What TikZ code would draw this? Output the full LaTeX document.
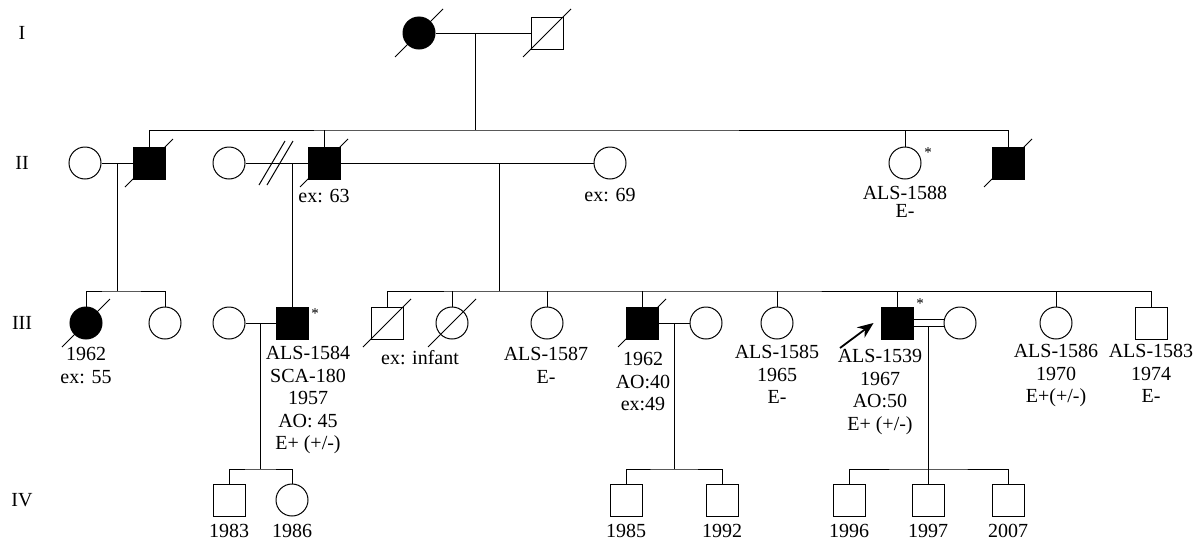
\documentclass[tikz,border=0pt]{standalone}
\usepackage{fontspec}
\setmainfont{Liberation Serif}
\usepackage{tikz}
\usetikzlibrary{arrows.meta, calc}

\begin{document}
\begin{tikzpicture}[
    x=1pt, y=-1pt,
    line width=1pt,
    person/.style={
        draw=black,
        fill=white,
        inner sep=0pt
    },
    male/.style={
        person,
        rectangle,
        minimum width=32pt,
        minimum height=32pt
    },
    female/.style={
        person,
        circle,
        minimum size=32pt
    },
    affected/.style={
        fill=black
    },
    info/.style={
        font=\fontsize{20}{22.5}\selectfont,
        align=center,
        inner sep=0pt,
        anchor=north
    },
    gen/.style={
        font=\fontsize{20}{24}\selectfont,
        inner sep=0pt
    },
    starmark/.style={
        font=\fontsize{15}{15}\selectfont,
        inner sep=0pt
    },
    proband/.style={
        line width=1.8pt,
        -{Stealth[length=16pt, width=13pt]}
    }
]
\useasboundingbox (0,0) rectangle (1204,541);

% Generation labels
\node[gen] (gI) at (22,33) {I};
\node[gen] (gII) at (22,163) {II};
\node[gen] (gIII) at (22,323) {III};
\node[gen] (gIV) at (22,500) {IV};

% Generation I
\node[female, affected] (I1) at (419,33) {};
\node[male] (I2) at (547,33) {};

% Generation II
\node[female] (II1) at (85,163) {};
\node[male, affected] (II2) at (149,163) {};
\node[female] (II3) at (229,163) {};
\node[male, affected] (II4) at (324,163) {};
\node[female] (II5) at (610,163) {};
\node[female] (II6) at (905,163) {};
\node[male, affected] (II7) at (1008,163) {};

% Generation III
\node[female, affected] (III1) at (86,323) {};
\node[female] (III2) at (165,323) {};
\node[female] (III3) at (229,323) {};
\node[male, affected] (III4) at (292,323) {};
\node[male] (III5) at (387,323) {};
\node[female] (III6) at (452,323) {};
\node[female] (III7) at (547,323) {};
\node[male, affected] (III8) at (642,323) {};
\node[female] (III9) at (706,323) {};
\node[female] (III10) at (777,323) {};
\node[male, affected] (III11) at (897,323) {};
\node[female] (III12) at (960,323) {};
\node[female] (III13) at (1056,323) {};
\node[male] (III14) at (1151,323) {};

% Generation IV
\node[male] (IV1) at (229,500) {};
\node[female] (IV2) at (292,500) {};
\node[male] (IV3) at (626,500) {};
\node[male] (IV4) at (722,500) {};
\node[male] (IV5) at (849,500) {};
\node[male] (IV6) at (928,500) {};
\node[male] (IV7) at (1008,500) {};

% Deceased
\foreach \n in {I1,I2,II2,II4,II7,III1,III5,III6,III8}
    \draw (\n.center) ++(-24,24) -- ++(48,-48);

% I1 x I2
\coordinate (mI) at (475,33);
\coordinate (sibII) at (475,130);
\draw (I1) -- (I2);
\draw (mI) -- (sibII);
\draw (II2.north) |- (sibII) -| (II7.north);
\foreach \n in {II4,II6}
    \draw (\n.north) -- (\n.north |- sibII);

% II1 x II2
\coordinate (mII12) at (117,163);
\coordinate (sibIIIa) at (117,291);
\draw (II1) -- (II2);
\draw (mII12) -- (sibIIIa);
\draw (III1.north) |- (sibIIIa) -| (III2.north);

% II3 x II4 (separated)
\coordinate (mII34) at (292,163);
\draw (II3) -- (II4);
\foreach \x in {272,280}
    \draw (\x,163) ++(-13,22) -- ++(26,-44);
\draw (mII34) -- (III4.north);

% II4 x II5
\coordinate (mII45) at (499,163);
\coordinate (sibIIIb) at (499,291);
\draw (II4) -- (II5);
\draw (mII45) -- (sibIIIb);
\draw (III5.north) |- (sibIIIb) -| (III14.north);
\foreach \n in {III6,III7,III8,III10,III11,III13}
    \draw (\n.north) -- (\n.north |- sibIIIb);

% III3 x III4
\coordinate (mIII34) at (260,323);
\coordinate (sibIVa) at (260,469);
\draw (III3) -- (III4);
\draw (mIII34) -- (sibIVa);
\draw (IV1.north) |- (sibIVa) -| (IV2.north);

% III8 x III9
\coordinate (mIII89) at (674,323);
\coordinate (sibIVb) at (674,469);
\draw (III8) -- (III9);
\draw (mIII89) -- (sibIVb);
\draw (IV3.north) |- (sibIVb) -| (IV4.north);

% III11 = III12 (consanguineous)
\coordinate (mIII1112) at (928,326.5);
\coordinate (sibIVc) at (928,469);
\draw ([yshift=3.5pt]III11.east) -- ([yshift=3.5pt]III12.west);
\draw ([yshift=-3.5pt]III11.east) -- ([yshift=-3.5pt]III12.west);
\draw (mIII1112) -- (sibIVc);
\draw (IV5.north) |- (sibIVc) -| (IV7.north);
\draw (IV6.north) -- (IV6.north |- sibIVc);

% Proband
\coordinate (arrtail) at (840,348);
\draw[proband] (arrtail) -- ([xshift=-7pt]III11.west);

% Tested
\node[starmark] (sII6) at (928,153) {*};
\node[starmark] (sIII4) at (315,314) {*};
\node[starmark] (sIII11) at (920,304) {*};

% Labels
\node[info] (lII4) at (324,189) {ex: 63};
\node[info] (lII5) at (610,188) {ex: 69};
\node[info, font=\fontsize{20}{18}\selectfont] (lII6) at (905,186) {ALS-1588\\E-};
\node[info] (lIII1) at (86,347) {1962\\ex: 55};
\node[info] (lIII4) at (308,346) {ALS-1584\\SCA-180\\1957\\AO: 45\\E+ (+/-)};
\node[info] (lIII56) at (420,350) {ex: infant};
\node[info] (lIII7) at (546,347) {ALS-1587\\E-};
\node[info] (lIII8) at (643,352) {1962\\AO:40\\ex:49};
\node[info] (lIII10) at (777,345) {ALS-1585\\1965\\E-};
\node[info] (lIII11) at (880,349) {ALS-1539\\1967\\AO:50\\E+ (+/-)};
\node[info] (lIII13) at (1056,344) {ALS-1586\\1970\\E+(+/-)};
\node[info] (lIII14) at (1151,344) {ALS-1583\\1974\\E-};
\node[info] (lIV1) at (229,524) {1983};
\node[info] (lIV2) at (292,524) {1986};
\node[info] (lIV3) at (626,524) {1985};
\node[info] (lIV4) at (722,524) {1992};
\node[info] (lIV5) at (849,524) {1996};
\node[info] (lIV6) at (928,524) {1997};
\node[info] (lIV7) at (1008,524) {2007};

\end{tikzpicture}
\end{document}
